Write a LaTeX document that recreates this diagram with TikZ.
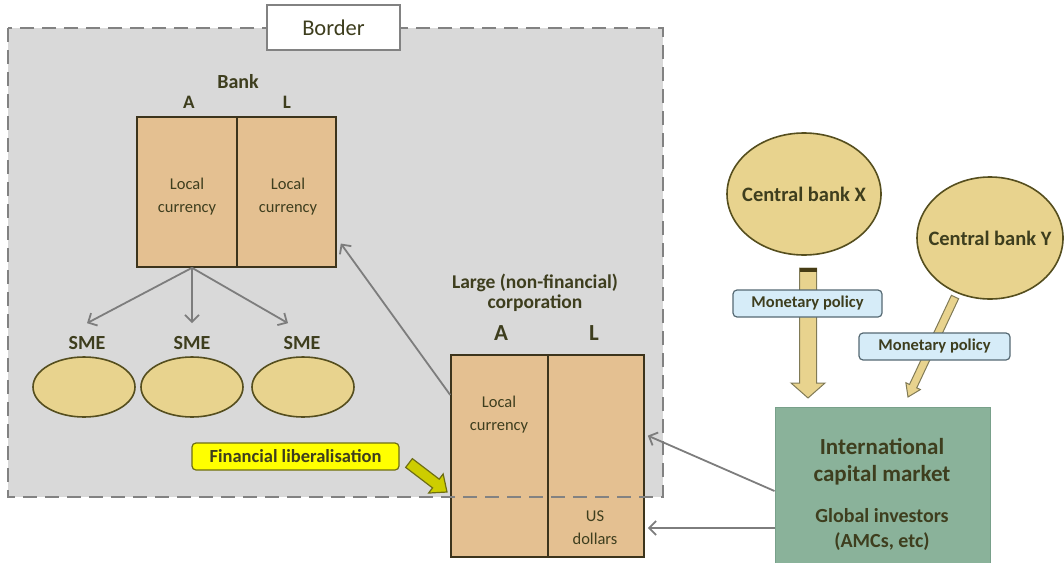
\documentclass[tikz,border=0pt]{standalone}
\usepackage{fontspec}
\setmainfont{Carlito}
\usetikzlibrary{arrows.meta,shapes.geometric,calc}

\definecolor{textcol}{RGB}{62,62,30}
\definecolor{areagray}{RGB}{217,217,217}
\definecolor{bordergray}{RGB}{130,130,130}
\definecolor{tanfill}{RGB}{228,192,145}
\definecolor{tanline}{RGB}{60,52,28}
\definecolor{blobfill}{RGB}{232,211,142}
\definecolor{blobline}{RGB}{85,78,30}
\definecolor{policyfill}{RGB}{214,236,248}
\definecolor{policyline}{RGB}{85,105,115}
\definecolor{libfill}{RGB}{255,255,0}
\definecolor{libline}{RGB}{110,110,20}
\definecolor{libarrow}{RGB}{205,205,0}
\definecolor{marketfill}{RGB}{138,178,154}
\definecolor{marketline}{RGB}{120,160,138}
\definecolor{arrowgray}{RGB}{125,125,125}
\definecolor{capdark}{RGB}{70,60,20}

% style, from, to, half shaft, half head, head length
\newcommand{\blockarrow}[6]{%
  \coordinate (ahbase) at ($(#3)!#6!(#2)$);
  \draw[#1] ($(#2)!#4!-90:(#3)$) -- ($(#2)!#4!90:(#3)$)
    -- ($(ahbase)!#4!90:(#3)$) -- ($(ahbase)!#5!90:(#3)$) -- (#3)
    -- ($(ahbase)!#5!-90:(#3)$) -- ($(ahbase)!#4!-90:(#3)$) -- cycle;}

\begin{document}
\begin{tikzpicture}[x=1pt,y=-1pt,
  txt/.style={text=textcol,align=center,inner sep=0pt,font=\fontsize{16.5}{23}\selectfont},
  lbl/.style={text=textcol,align=center,inner sep=0pt,font=\bfseries\fontsize{20}{21}\selectfont},
  half/.style={draw=tanline,line width=1.6pt,fill=tanfill,inner sep=0pt},
  sme/.style={ellipse,draw=blobline,line width=1.6pt,fill=blobfill,inner sep=0pt,minimum width=102pt,minimum height=60pt},
  policy/.style={draw=policyline,line width=1.2pt,fill=policyfill,rounded corners=4pt,minimum width=149pt,minimum height=27pt,inner sep=0pt,text=textcol,font=\bfseries\fontsize{16.5}{19}\selectfont},
  flow/.style={draw=arrowgray,line width=1.8pt,-{Straight Barb[length=7pt,width=14pt]}},
  fat/.style={fill=blobfill,draw=blobline!75,line width=1pt},
  libfat/.style={fill=libarrow,draw=libline,line width=1.2pt}]
\useasboundingbox (0,0) rectangle (1064,562);
\fill[areagray] (8,28) rectangle (663,497); % inside the border

% bank
\node[lbl] (banklbl) at (238,82) {Bank};
\node[lbl,font=\bfseries\fontsize{19}{20}\selectfont] (bankAlbl) at (189,102) {A};
\node[lbl,font=\bfseries\fontsize{19}{20}\selectfont] (bankLlbl) at (287,102) {L};
\node[half,minimum width=100pt,minimum height=150pt] (bankA) at (187,192) {};
\node[half,minimum width=99pt,minimum height=150pt] (bankL) at (286.5,192) {};
\node[txt] (bankAtxt) at (187,197) {Local\\currency};
\node[txt] (bankLtxt) at (288,197) {Local\\currency};

% SMEs
\foreach \i/\x/\lx in {1/84/87,2/192/192,3/303/302}
{
    \node[lbl] (smelbl\i) at (\lx,343) {SME};
    \node[sme] (sme\i) at (\x,387) {};
}
\coordinate (fork) at ($(bankA.south)+(5,0)$);
\draw[flow] (fork) -- ([yshift=13pt]smelbl1.north);
\draw[flow] (fork) -- ([yshift=13pt]smelbl2.north);
\draw[flow] (fork) -- ([xshift=-14pt,yshift=13pt]smelbl3.north);

% corporation
\node[lbl,font=\bfseries\fontsize{19.5}{20}\selectfont] (corplbl) at (535,293) {Large (non-financial)\\corporation};
\node[lbl,font=\bfseries\fontsize{23}{27}\selectfont] (corpAlbl) at (501,333) {A};
\node[lbl,font=\bfseries\fontsize{23}{27}\selectfont] (corpLlbl) at (594,333) {L};
\node[half,minimum width=97pt,minimum height=202pt] (corpA) at (499.5,456) {};
\node[half,minimum width=96pt,minimum height=202pt] (corpL) at (596,456) {};
\node[txt] (corpAtxt) at (499,415) {Local\\currency};
\node[txt] (usd) at (595,528) {US\\dollars};
\draw[flow] ($(corpA.north west)!0.2!(corpA.south west)$) -- ($(bankL.north east)!0.84!(bankL.south east)+(4,0)$); % corp to bank

% border
\draw[bordergray,line width=2.6pt,dash pattern=on 14pt off 8pt] (8,28) rectangle (663,497);
\node[draw=bordergray,line width=1.2pt,fill=white,minimum width=133pt,minimum height=45pt,txt,font=\fontsize{22.5}{26}\selectfont] (borderlbl) at (333.5,27.5) {Border};

% financial liberalisation
\node[draw=libline,line width=1.2pt,fill=libfill,rounded corners=4pt,minimum width=207pt,minimum height=27pt,lbl,font=\bfseries\fontsize{18.5}{22}\selectfont] (finlib) at (295.5,456.5) {Financial liberalisation};
\coordinate (libTop) at (409,463);
\coordinate (libTip) at (447,492);
\blockarrow{libfat}{libTop}{libTip}{5.5pt}{12pt}{14pt}

% central banks
\node[sme,minimum width=154pt,minimum height=122pt] (cbx) at (804,194) {};
\node[lbl,font=\bfseries\fontsize{20.5}{22}\selectfont] (cbxlbl) at (cbx) {Central bank X};
\node[sme,minimum width=146pt,minimum height=122pt] (cby) at (990,238) {};
\node[lbl,font=\bfseries\fontsize{20.5}{22}\selectfont] (cbylbl) at (cby) {Central bank Y};

\coordinate (xTop) at (808,268);
\coordinate (xTip) at (808,398);
\blockarrow{fat}{xTop}{xTip}{8.5pt}{17pt}{15pt}
\fill[capdark] ($(xTop)+(-8.5,0)$) rectangle ($(xTop)+(8.5,4)$); % dark end
\coordinate (yTop) at (955,297);
\coordinate (yTip) at (908,397);
\blockarrow{fat}{yTop}{yTip}{4pt}{8pt}{12pt}
\node[policy] (polx) at (807.5,303.5) {Monetary policy};
\node[policy,minimum width=151pt] (poly) at (934.5,346.5) {Monetary policy};

% international capital market
\node[draw=marketline,line width=1pt,fill=marketfill,minimum width=215pt,minimum height=168pt,inner sep=0pt] (icm) at (882.5,491) {};
\node[lbl,font=\bfseries\fontsize{23}{27}\selectfont] (icmtxt) at (882,462) {International\\capital market};
\node[lbl,font=\bfseries\fontsize{20}{25}\selectfont] (invtxt) at (882,529) {Global investors\\(AMCs, etc)};
\draw[flow] (icm.west) -- ($(corpL.north east)!0.4!(corpL.south east)+(3,0)$);
\draw[flow] (icm.west |- usd) -- ($(corpL.east |- usd)+(3,0)$);
\end{tikzpicture}
\end{document}
